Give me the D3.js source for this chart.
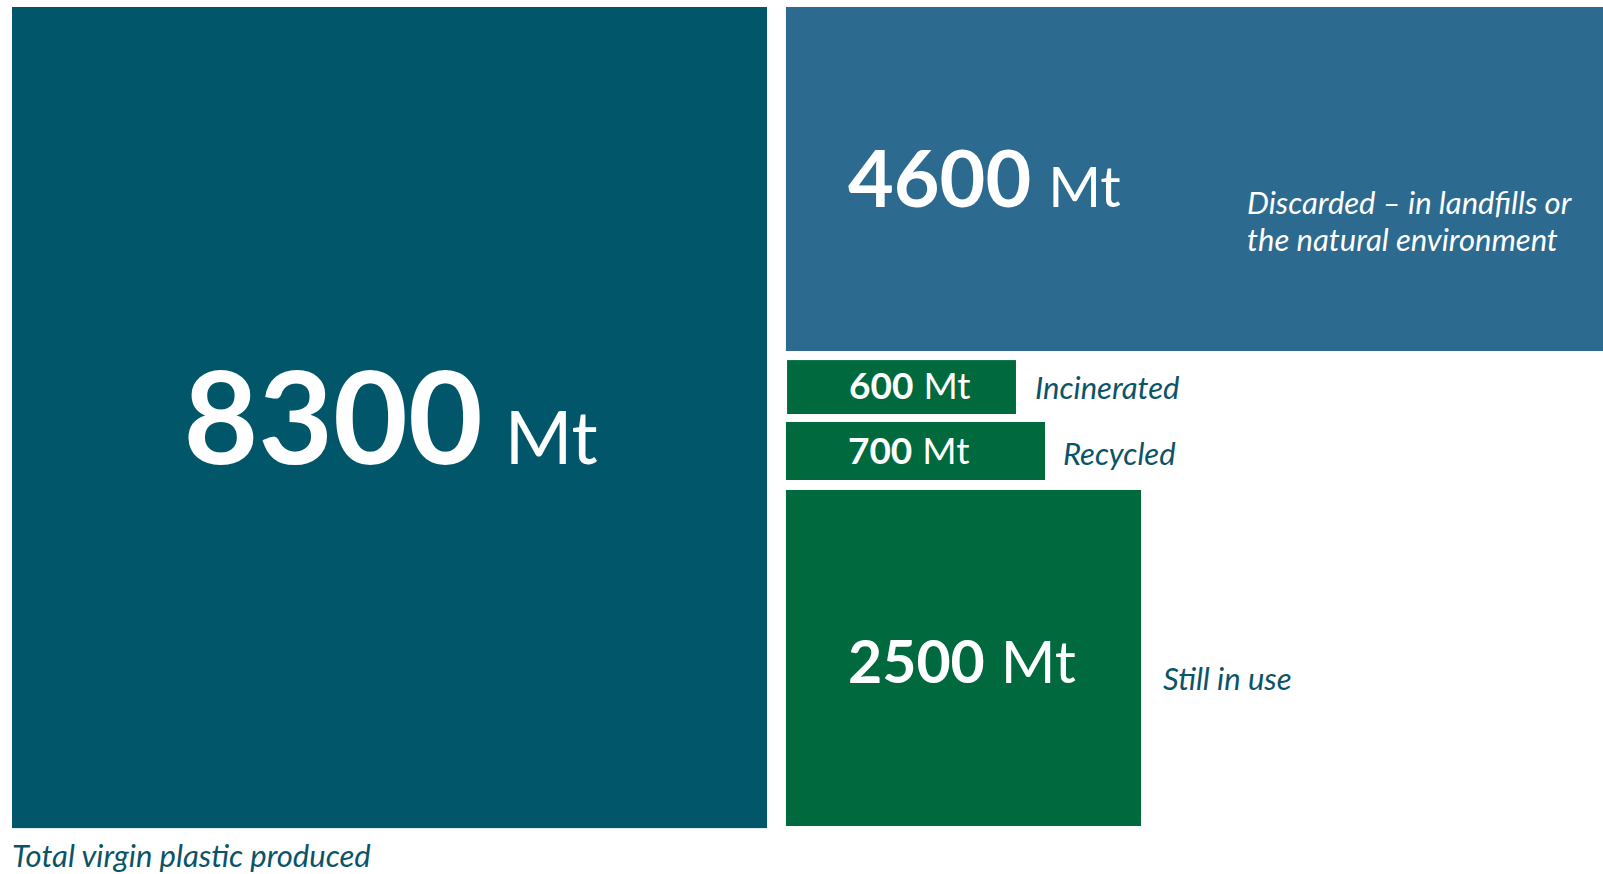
<!DOCTYPE html>
<html>
<head>
<meta charset="utf-8">
<script src="https://cdn.jsdelivr.net/npm/d3@7"></script>
<style>
  body { margin: 0; background: #fff; }
  svg { display: block; }
  text { font-family: Lato, "Open Sans", sans-serif; }
</style>
</head>
<body>
<script>
// data
var categories = ["Total virgin plastic produced", "Discarded", "Incinerated", "Recycled", "Still in use"];
var values = [8300, 4600, 600, 700, 2500];
var unit = "Mt";
var captions = [
  ["Total virgin plastic produced"],
  ["Discarded \u2013 in landfills or", "the natural environment"],
  ["Incinerated"],
  ["Recycled"],
  ["Still in use"]
];

function init(){
  var width = 1603, height = 874;

  // page grid (0-1000 units each way)
  var x = d3.scaleLinear().domain([0, 1000]).range([0, width]);
  var y = d3.scaleLinear().domain([0, 1000]).range([0, height]);

  // box layout in grid units: [x0, y0, x1, y1]
  var layout = [
    [7.5, 8, 478.5, 947.5],
    [490.3, 8, 1000, 401.6],
    [491, 412, 633.8, 473.7],
    [490.3, 482.8, 651.9, 549.2],
    [490.3, 560.6, 711.8, 945.1]
  ];
  var fills = ["#02566a", "#2c6a8f", "#006a3e", "#006a3e", "#006a3e"];
  // font sizes: number, unit
  var fontSizes = [[129, 73], [79, 57], [37, 37], [37, 37], [59, 59]];
  var unitGap = [22, 17, 10, 10, 16];
  var labelDrop = [0, 0, -1, 0, 4];

  var data = categories.map(function(c, i) {
    var b = layout[i];
    return {
      name: c, value: values[i], caption: captions[i], fill: fills[i],
      x0: x(b[0]), y0: y(b[1]), x1: x(b[2]), y1: y(b[3]),
      fs: fontSizes[i], gap: unitGap[i], drop: labelDrop[i]
    };
  });

  var svg = d3.select("body").append("svg")
    .attr("width", width)
    .attr("height", height);

  svg.selectAll("rect.box")
    .data(data)
    .enter().append("rect")
      .attr("class", "box")
      .attr("x", function(d) { return d.x0; })
      .attr("y", function(d) { return d.y0; })
      .attr("width", function(d) { return d.x1 - d.x0; })
      .attr("height", function(d) { return d.y1 - d.y0; })
      .attr("fill", function(d) { return d.fill; });

  // value labels
  var fmt = d3.format("d");
  var labels = svg.selectAll("text.value")
    .data(data)
    .enter().append("text")
      .attr("class", "value")
      .attr("fill", "#fff")
      .attr("text-anchor", function(d, i) { return i === 0 ? "middle" : "start"; })
      .attr("x", function(d, i) { return i === 0 ? (d.x0 + d.x1) / 2 + 1 : d.x0 + 62; })
      .attr("y", function(d) { return (d.y0 + d.y1) / 2 + d.fs[0] * 0.36 + d.drop; });

  labels.append("tspan")
    .attr("font-weight", 700)
    .attr("font-size", function(d) { return d.fs[0]; })
    .text(function(d) { return fmt(d.value); });

  labels.append("tspan")
    .attr("font-weight", 400)
    .attr("font-size", function(d) { return d.fs[1]; })
    .attr("dx", function(d) { return d.gap; })
    .text(unit);

  // captions
  var capFill = ["#0b5468", "#ffffff", "#0b5468", "#0b5468", "#0b5468"];
  var capPos = [
    function(d) { return [d.x0, d.y1 + 39]; },
    function(d) { return [x(777.9), y(244.5)]; },
    function(d) { return [d.x1 + 19, d.y1 - 15]; },
    function(d) { return [d.x1 + 18, d.y1 - 15]; },
    function(d) { return [d.x1 + 22, (d.y0 + d.y1) / 2 + 32]; }
  ];

  var caps = svg.selectAll("text.caption")
    .data(data)
    .enter().append("text")
      .attr("class", "caption")
      .attr("font-style", "italic")
      .attr("font-size", 31)
      .attr("fill", function(d, i) { return capFill[i]; })
      .attr("transform", function(d, i) {
        var p = capPos[i](d);
        return "translate(" + p[0] + "," + p[1] + ")";
      });

  caps.selectAll("tspan")
    .data(function(d) { return d.caption; })
    .enter().append("tspan")
      .attr("x", 0)
      .attr("dy", function(d, i) { return i === 0 ? 0 : 37; })
      .text(function(d) { return d; });
}
window.onload = init;
</script>
</body>
</html>
